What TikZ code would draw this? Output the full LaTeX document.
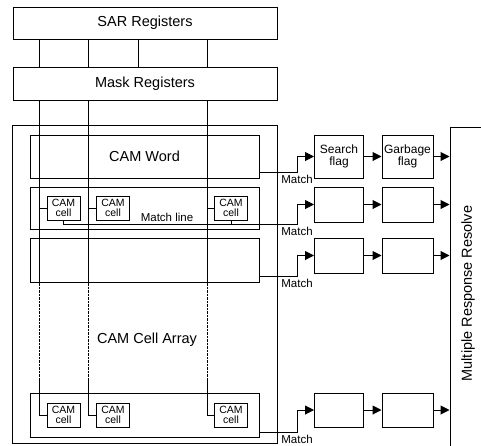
\documentclass[tikz,border=0pt]{standalone}
\usepackage{fontspec}
\setmainfont{Liberation Sans}
\usetikzlibrary{arrows.meta}

\begin{document}
\begin{tikzpicture}[x=1pt, y=-1pt,
  every node/.style={font=\fontsize{14.5}{16}\selectfont},
  box/.style={draw, line width=1pt, inner sep=0pt},
  reg/.style={box, minimum width=264pt, minimum height=32pt},
  word/.style={box, minimum width=229pt, minimum height=43pt},
  cell/.style={box, minimum width=33pt, minimum height=24pt, align=center, font=\fontsize{10.5}{10.5}\selectfont},
  flag/.style={box, minimum width=49pt, minimum height=35pt, align=center, font=\fontsize{12}{12.5}\selectfont},
  wire/.style={line width=1pt},
  sig/.style={wire, -{Triangle[length=9pt,width=9pt]}},
  lbl/.style={font=\fontsize{11.5}{12}\selectfont, inner sep=1pt}]
\useasboundingbox (0,0) rectangle (481,445);
\clip (0,0) rectangle (481,445);

% registers
\node[reg] (sar) at (145,23) {SAR Registers};
\node[reg, minimum height=33pt] (mask) at (145,83.5) {Mask Registers};
\foreach \x in {39,88,138,207}
  \draw[wire] (sar.south -| \x,0) -- (mask.north -| \x,0);

% cell array
\node[box, line width=0.6pt, minimum width=265pt, minimum height=318pt] (arr) at (144.5,284) {};
\node (arrlbl) at (147,340) {CAM Cell Array};
\node[word] (w1) at (144.5,156.5) {CAM Word};
\node[word, minimum height=42pt] (w2) at (144.5,208) {};
\node[word, minimum height=44pt] (w3) at (144.5,260) {};
\node[word, minimum height=44pt] (w4) at (144.5,415) {};

\node[cell] (c21) at (63.5,208) {CAM\\cell};
\node[cell] (c22) at (113,208) {CAM\\cell};
\node[cell] (c23) at (231,208) {CAM\\cell};
\node[cell] (c41) at (63.5,415) {CAM\\cell};
\node[cell] (c42) at (113,415) {CAM\\cell};
\node[cell] (c43) at (231,415) {CAM\\cell};

% bit lines
\coordinate (dend) at (0,380);
\foreach \x/\c in {39/1,88/2,207/3} {
  \draw[wire] (mask.south -| \x,0) -- (w3.south -| \x,0);
  \draw[wire] (c2\c.west -| \x,0) -- (c2\c.west);
  \draw[densely dotted, line width=0.4pt] (w3.south -| \x,0) -- (dend -| \x,0);
  \draw[wire] (dend -| \x,0) |- (c4\c.west);
}

% flags
\node[flag, minimum height=43pt] (f11) at (339,156.5) {Search\\flag};
\node[flag, minimum height=43pt, minimum width=51pt] (f12) at (407.5,156.5) {Garbage\\flag};
\node[flag] (f21) at (339,204.5) {};
\node[flag, minimum width=51pt] (f22) at (407.5,204.5) {};
\node[flag] (f31) at (339,255.5) {};
\node[flag, minimum width=51pt] (f32) at (407.5,255.5) {};
\node[flag, minimum height=34pt] (f41) at (339,410) {};
\node[flag, minimum height=34pt, minimum width=51pt] (f42) at (407.5,410) {};

\node[box, rotate=90, minimum width=333pt, minimum height=36pt] (mrr) at (468,293.5) {Multiple Response Resolve};

% match lines
\coordinate (ml1) at (297,172);
\coordinate (ml2) at (297,224);
\coordinate (ml3) at (297,276);
\coordinate (ml4) at (297,432);
\draw[sig] (w1.east |- ml1) -- (ml1) |- (f11.west);
\draw[sig] (c21.south) |- (ml2) |- (f21.west);
\draw[wire] (c23.south) -- (c23.south |- ml2);
\draw[sig] (w3.east |- ml3) -- (ml3) |- (f31.west);
\draw[sig] (w4.east |- ml4) -- (ml4) |- (f41.west);
\foreach \r in {1,2,3,4}
  \node[lbl, anchor=north] at ([yshift=-2pt]ml\r) {Match};
\node[lbl, anchor=south] at (167,223) {Match line};

\foreach \r in {1,2,3,4} {
  \draw[sig] (f\r1) -- (f\r2);
  \draw[sig] (f\r2.east) -- (f\r2.east -| mrr.north);
}
\end{tikzpicture}
\end{document}
